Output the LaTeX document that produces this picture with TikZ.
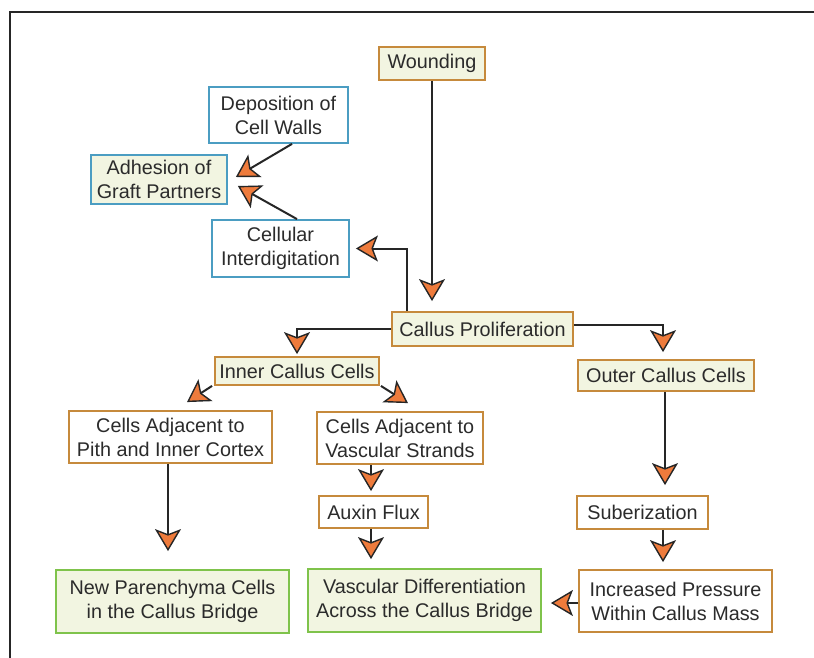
\documentclass[tikz,border=0pt]{standalone}
\usepackage{fontspec}
\setmainfont{Liberation Sans}
\usetikzlibrary{arrows.meta}
\definecolor{txtc}{HTML}{2B2B2B}
\definecolor{orb}{HTML}{C68A3C}
\definecolor{blb}{HTML}{4B9DC2}
\definecolor{grb}{HTML}{7FC34B}
\definecolor{lfill}{HTML}{F2F5E1}
\definecolor{arrf}{HTML}{EE7B3C}
\definecolor{linec}{HTML}{262626}
\tikzset{
  box/.style={rectangle, line width=1.8pt, inner sep=0pt, align=center, text=txtc,
    font=\fontsize{19.8}{24}\selectfont},
  obox/.style={box, draw=orb, fill=white},
  oboxf/.style={box, draw=orb, fill=lfill},
  bbox/.style={box, draw=blb, fill=white},
  bboxf/.style={box, draw=blb, fill=lfill},
  gbox/.style={box, draw=grb, fill=lfill},
  arr/.style={draw=linec, line width=2pt,
    -{Stealth[length=22pt,width=26pt,inset=5pt,line width=1.4pt,fill=arrf]}},
}
\begin{document}
\begin{tikzpicture}[x=1pt,y=-1pt]
\useasboundingbox (0,0) rectangle (814,658);
\draw[linec, line width=2.5pt] (10,658) -- (10,12) -- (814,12);

\node[oboxf, minimum width=106pt, minimum height=33pt] (wound) at (432,63.5) {Wounding};
\node[bbox, minimum width=139pt, minimum height=56pt] (depo) at (278.5,115) {Deposition of\\Cell Walls};
\node[bboxf, minimum width=136pt, minimum height=49pt] (adhe) at (159,179.5) {Adhesion of\\Graft Partners};
\node[bbox, minimum width=137pt, minimum height=57pt] (cellint) at (280.5,248.5) {Cellular\\Interdigitation};
\node[oboxf, minimum width=181pt, minimum height=34pt] (callpro) at (482.5,329) {Callus Proliferation};
\node[oboxf, minimum width=164pt, minimum height=28pt] (inner) at (297,371) {Inner Callus Cells};
\node[oboxf, minimum width=176pt, minimum height=31pt] (outer) at (666,375.5) {Outer Callus Cells};
\node[obox, minimum width=203pt, minimum height=52pt] (pith) at (170.5,437) {Cells Adjacent to\\Pith and Inner Cortex};
\node[obox, minimum width=166pt, minimum height=52pt] (vasc) at (400,438) {Cells Adjacent to\\Vascular Strands};
\node[obox, minimum width=109pt, minimum height=32pt] (auxin) at (373.5,512) {Auxin Flux};
\node[obox, minimum width=131pt, minimum height=33pt] (suber) at (642.5,512.5) {Suberization};
\node[gbox, minimum width=233pt, minimum height=63pt] (newpar) at (172.5,601.5) {New Parenchyma Cells\\in the Callus Bridge};
\node[gbox, minimum width=233pt, minimum height=63pt] (vascdiff) at (424.5,600.5) {Vascular Differentiation\\Across the Callus Bridge};
\node[obox, minimum width=193pt, minimum height=62pt] (press) at (675.5,601) {Increased Pressure\\Within Callus Mass};

% arrows
\draw[arr, shorten >=10pt] (wound.south) -- (wound.south |- callpro.north);
\draw[arr, shorten >=6pt] ([xshift=-75.5pt]callpro.north) |- (cellint.east);
\draw[arr] ([xshift=13.5pt]depo.south) -- ([xshift=8pt,yshift=2.5pt]adhe.east);
\draw[arr] ([xshift=16.5pt]cellint.north) -- ([xshift=10pt,yshift=-6.5pt]adhe.east);
\draw[arr, shorten >=2pt] (callpro.west) -| (inner.north);
\draw[arr, shorten >=7pt] ([yshift=4pt]callpro.east) -| ([xshift=-3pt]outer.north);
\draw[arr] ([xshift=-2pt]inner.south west) -- ([xshift=16.5pt,yshift=8pt]pith.north);
\draw[arr] ([xshift=1pt]inner.south east) -- ([xshift=8pt,yshift=8pt]vasc.north);
\draw[arr, shorten >=18pt] ([xshift=-2.5pt]pith.south) -- ([xshift=-2.5pt]pith.south |- newpar.north);
\draw[arr, shorten >=4pt] ([xshift=-2.5pt]auxin.north |- vasc.south) -- ([xshift=-2.5pt]auxin.north);
\draw[arr, shorten >=9pt] ([xshift=-2.5pt]auxin.south) -- ([xshift=-2.5pt]auxin.south |- vascdiff.north);
\draw[arr, shorten >=10pt] ([xshift=-1pt]outer.south) -- ([xshift=-1pt]outer.south |- suber.north);
\draw[arr, shorten >=7pt] ([xshift=20.5pt]suber.south) -- ([xshift=20.5pt]suber.south |- press.north);
\draw[arr, shorten >=9pt] ([yshift=-2pt]press.west) -- ([yshift=-2pt]press.west -| vascdiff.east);
\end{tikzpicture}
\end{document}
